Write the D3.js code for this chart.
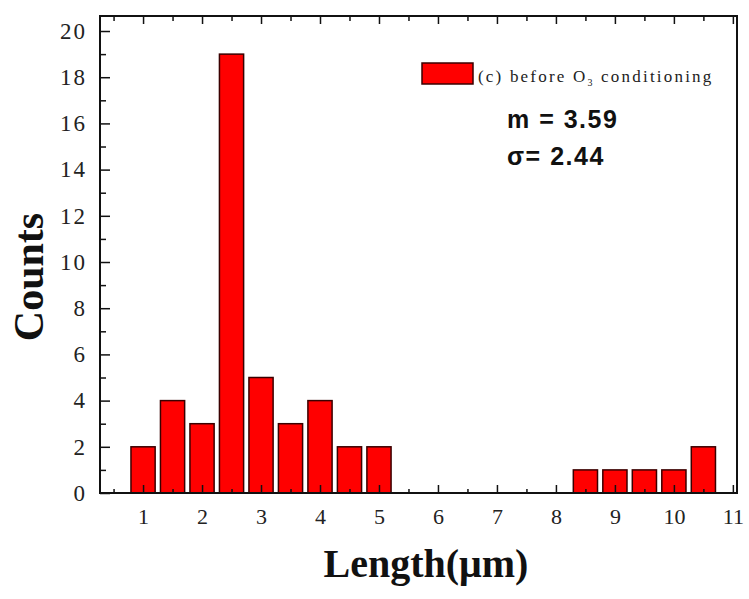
<!DOCTYPE html>
<html lang="en">
    <head>
        <meta charset="utf-8">
        <title>D3</title>
        <script type="text/javascript" src="https://cdnjs.cloudflare.com/ajax/libs/d3/7.8.5/d3.min.js"></script>
        <style type="text/css">
            body { margin: 0; background: #fff; }
            .tick text { font-family: "Liberation Serif", serif; fill: #222; }
        </style>
    </head>
    <body>
        <script type="text/javascript">
            // histogram bins (centre of each 0.5 um bin) and counts
            var binCenters = [1, 1.5, 2, 2.5, 3, 3.5, 4, 4.5, 5, 8.5, 9, 9.5, 10, 10.5];
            var counts     = [2, 4, 3, 19, 5, 3, 4, 2, 2, 1, 1, 1, 1, 2];
            var xTicks = [1, 2, 3, 4, 5, 6, 7, 8, 9, 10, 11];
            var yTicks = [0, 2, 4, 6, 8, 10, 12, 14, 16, 18, 20];
            var legendLabel = "(c) before O";
            var statLines = ["m = 3.59", "\u03c3= 2.44"];

            var w = 749;
            var h = 599;
            var padL = 100, padR = 737, padT = 16, padB = 493;

            var svg = d3.select("body")
                        .append("svg")
                        .attr("width", w)
                        .attr("height", h);

            var x = d3.scaleLinear().domain([0.27, 11.07]).range([padL, padR]);
            var y = d3.scaleLinear().domain([0, 20.65]).range([padB, padT]);
            var barW = 0.41;

            var data = binCenters.map(function (c, i) { return { c: c, n: counts[i] }; });

            svg.selectAll("rect.bar")
               .data(data)
               .enter()
               .append("rect")
               .attr("class", "bar")
               .attr("x", function (d) { return x(d.c - barW / 2); })
               .attr("y", function (d) { return y(d.n); })
               .attr("width", function (d) { return x(d.c + barW / 2) - x(d.c - barW / 2); })
               .attr("height", function (d) { return y(0) - y(d.n); })
               .attr("fill", "#ff0000")
               .attr("stroke", "#3a0000")
               .attr("stroke-width", 1.5);

            var halfTicks = d3.range(0.5, 11.01, 1);
            var oddTicks = d3.range(1, 20, 2);

            // bottom axis, ticks pointing inward
            svg.append("g")
               .attr("transform", "translate(0," + padB + ")")
               .call(d3.axisBottom(x).tickValues(xTicks).tickSize(-8).tickPadding(15).tickFormat(d3.format("d")))
               .call(function (g) {
                   g.select(".domain").remove();
                   g.selectAll("text").attr("font-size", 22);
               });
            svg.append("g")
               .attr("transform", "translate(0," + padB + ")")
               .call(d3.axisBottom(x).tickValues(halfTicks).tickSize(-4).tickFormat(""))
               .call(function (g) { g.select(".domain").remove(); });

            // top axis, no labels
            svg.append("g")
               .attr("transform", "translate(0," + padT + ")")
               .call(d3.axisTop(x).tickValues(xTicks).tickSize(-8).tickFormat(""))
               .call(function (g) { g.select(".domain").remove(); });
            svg.append("g")
               .attr("transform", "translate(0," + padT + ")")
               .call(d3.axisTop(x).tickValues(halfTicks).tickSize(-5).tickFormat(""))
               .call(function (g) { g.select(".domain").remove(); });

            // left axis
            svg.append("g")
               .attr("transform", "translate(" + padL + ",0)")
               .call(d3.axisLeft(y).tickValues(yTicks).tickSize(-10).tickPadding(13).tickFormat(d3.format("d")))
               .call(function (g) {
                   g.select(".domain").remove();
                   g.selectAll("text").attr("font-size", 23).attr("letter-spacing", 2);
               });
            svg.append("g")
               .attr("transform", "translate(" + padL + ",0)")
               .call(d3.axisLeft(y).tickValues(oddTicks).tickSize(-6).tickFormat(""))
               .call(function (g) { g.select(".domain").remove(); });

            svg.selectAll(".tick line").attr("stroke", "#111").attr("stroke-width", 1.5);

            // frame
            svg.append("rect")
               .attr("x", padL)
               .attr("y", padT)
               .attr("width", padR - padL)
               .attr("height", padB - padT)
               .attr("fill", "none")
               .attr("stroke", "#111")
               .attr("stroke-width", 2);

            // axis titles
            svg.append("text")
               .attr("transform", "translate(43,277) rotate(-90)")
               .attr("text-anchor", "middle")
               .attr("font-family", "Liberation Serif, serif")
               .attr("font-weight", "bold")
               .attr("font-size", 42)
               .attr("fill", "#111")
               .text("Counts");

            svg.append("text")
               .attr("x", 426)
               .attr("y", 577)
               .attr("text-anchor", "middle")
               .attr("font-family", "Liberation Serif, serif")
               .attr("font-weight", "bold")
               .attr("font-size", 40)
               .attr("fill", "#111")
               .text("Length(\u03bcm)");

            // legend
            svg.append("rect")
               .attr("x", 422)
               .attr("y", 63)
               .attr("width", 51)
               .attr("height", 21)
               .attr("fill", "#ff0000")
               .attr("stroke", "#3a0000")
               .attr("stroke-width", 1.5);

            var leg = svg.append("text")
               .attr("x", 478)
               .attr("y", 82)
               .attr("font-family", "Liberation Serif, serif")
               .attr("font-size", 17)
               .attr("letter-spacing", 2.2)
               .attr("fill", "#222");
            leg.append("tspan").text(legendLabel);
            leg.append("tspan").attr("font-size", 10).attr("dy", 4).text("3");
            leg.append("tspan").attr("dy", -4).text(" conditioning");

            svg.selectAll("text.stat")
               .data(statLines)
               .enter()
               .append("text")
               .attr("class", "stat")
               .attr("x", 507)
               .attr("y", function (d, i) { return 128 + i * 37; })
               .attr("font-family", "Liberation Sans, Arial, sans-serif")
               .attr("font-weight", "bold")
               .attr("font-size", 25)
               .attr("letter-spacing", 1.5)
               .attr("fill", "#111")
               .text(function (d) { return d; });
        </script>
    </body>
</html>
